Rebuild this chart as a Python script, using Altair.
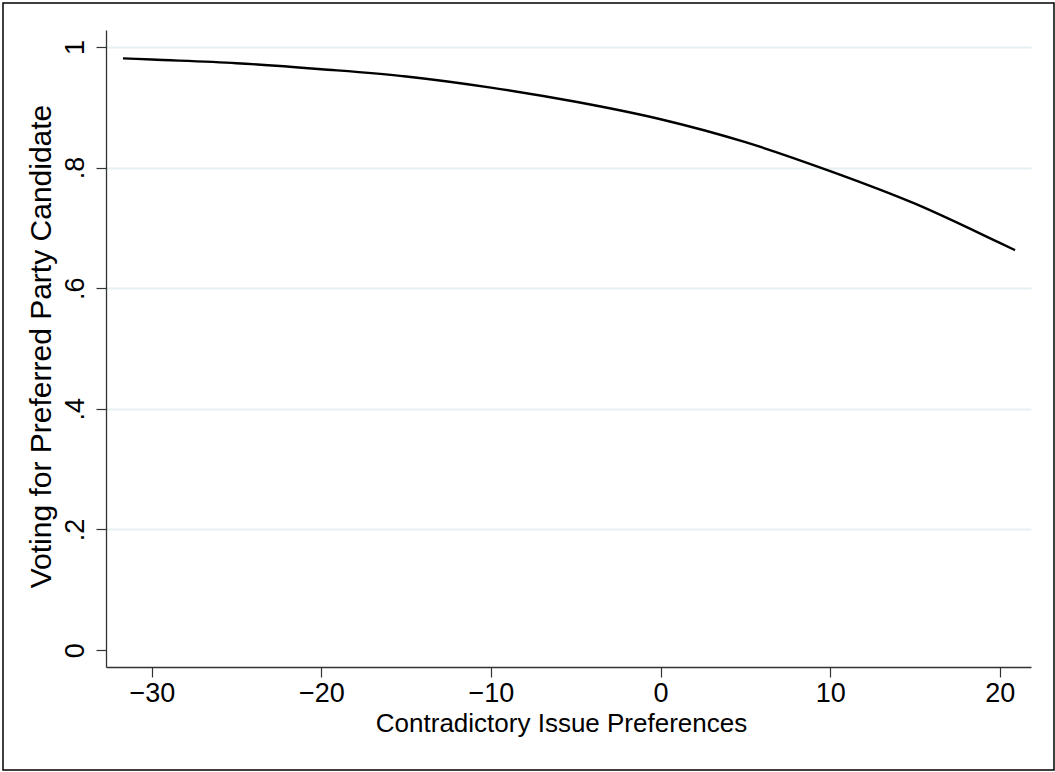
import altair as alt
import pandas as pd

# Predicted probability of voting for the preferred party's candidate
# across the contradictory-issue-preferences scale
issue_pref = [-31.7, -30, -25, -20, -15, -10, -5, 0, 5, 10, 15, 20, 20.9]
vote_prob = [0.981, 0.979, 0.973, 0.963, 0.951, 0.9325, 0.909, 0.880, 0.842, 0.794, 0.740, 0.675, 0.663]

x_ticks = [-30, -20, -10, 0, 10, 20]
y_ticks = [0, 0.2, 0.4, 0.6, 0.8, 1]

df = pd.DataFrame({"pref": issue_pref, "prob": vote_prob})

FONT = "Liberation Sans"
AXIS_DARK = "#333333"
GRID = "#e6eff1"

x_enc = alt.X(
    "pref:Q",
    scale=alt.Scale(domain=[-32.7, 21.84], nice=False, zero=False),
    axis=alt.Axis(
        values=x_ticks,
        title="Contradictory Issue Preferences",
        grid=False,
        tickSize=10,
        tickWidth=1.2,
        tickColor=AXIS_DARK,
        domainColor=AXIS_DARK,
        domainWidth=1.6,
        labelFont=FONT,
        labelFontSize=27,
        labelColor="black",
        labelPadding=3,
        titleFont=FONT,
        titleFontSize=26,
        titleFontWeight="normal",
        titleColor="black",
        titlePadding=4,
        titleX=455,
    ),
)

y_enc = alt.Y(
    "prob:Q",
    scale=alt.Scale(domain=[-0.028, 1.028], nice=False, zero=False),
    axis=alt.Axis(
        values=y_ticks,
        title="Voting for Preferred Party Candidate",
        grid=True,
        gridColor=GRID,
        gridWidth=1.8,
        gridOpacity=alt.condition("datum.value == 0", alt.value(0), alt.value(1)),
        tickSize=10,
        tickWidth=1.2,
        tickColor=AXIS_DARK,
        domainColor=AXIS_DARK,
        domainWidth=1.3,
        labelFont=FONT,
        labelFontSize=27,
        labelColor="black",
        labelAngle=270,
        labelAlign="center",
        labelBaseline="alphabetic",
        labelPadding=13,
        labelExpr="datum.value == 0 ? '0' : datum.value == 1 ? '1' : replace(format(datum.value, '.1f'), '0.', '.')",
        titleFont=FONT,
        titleFontSize=30,
        titleFontWeight="normal",
        titleColor="black",
        titlePadding=5,
        titleY=316,
    ),
)

curve = (
    alt.Chart(df)
    .mark_line(color="black", strokeWidth=2.4, interpolate="monotone")
    .encode(x=x_enc, y=y_enc)
)

# Frame around the whole graph
frame = (
    alt.Chart(pd.DataFrame({"a": [0]}))
    .mark_rect(fill=None, stroke="black", strokeWidth=1.5)
    .encode(
        x=alt.value(-103),
        x2=alt.value(948),
        y=alt.value(-27),
        y2=alt.value(740),
    )
)

chart = (
    alt.layer(frame, curve)
    .properties(
        width=925,
        height=637,
        padding={"left": 106, "top": 30, "right": 24, "bottom": 105},
        autosize=alt.AutoSizeParams(type="none"),
        background="white",
    )
    .configure_view(stroke=None)
)

chart.save("out.html", embed_options={"renderer": "svg", "actions": False})
